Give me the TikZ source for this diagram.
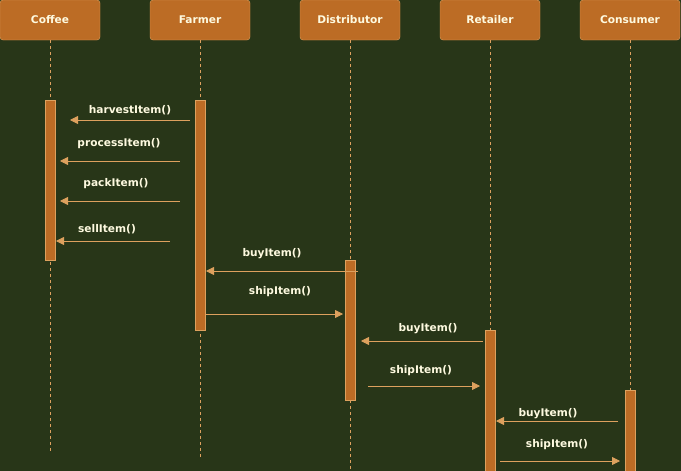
\documentclass[tikz,border=0pt]{standalone}
\usepackage{fontspec}
\setmainfont{DejaVu Sans}
\usetikzlibrary{arrows.meta}
\definecolor{bgc}{HTML}{283618}
\definecolor{boxf}{HTML}{BC6C25}
\definecolor{boxd}{HTML}{DDA15E}
\definecolor{txt}{HTML}{FEFAE0}
\tikzset{
  actor/.style={draw=boxd, fill=boxf, rounded corners=3pt, minimum width=100pt, minimum height=40pt, inner sep=0pt, text=txt, font=\fontsize{10.6}{12}\selectfont\bfseries},
  life/.style={draw=boxd, dashed, dash pattern=on 3pt off 3pt, line width=0.5pt},
  actbar/.style={draw=boxd, fill=boxf, line width=0.5pt},
  msg/.style={draw=boxd, line width=0.8pt, -{Triangle[length=8pt,width=8pt]}},
  lbl/.style={text=txt, font=\fontsize{10.6}{12}\selectfont\bfseries, inner sep=0pt}
}
\begin{document}
\begin{tikzpicture}[x=1pt,y=-1pt]
\fill[bgc] (0,0) rectangle (681,471);
\useasboundingbox (0,0) rectangle (681,471);
% lifelines
\coordinate (l1e) at (50,452);
\coordinate (l2e) at (200,458);
\coordinate (l3e) at (350,471);
\coordinate (l4e) at (490,471);
\coordinate (l5e) at (630,471);
\node[actor] (coffee) at (50,20) {Coffee};
\node[actor] (farmer) at (200,20) {Farmer};
\node[actor] (dist) at (350,20) {Distributor};
\node[actor] (ret) at (490,20) {Retailer};
\node[actor] (cons) at (630,20) {Consumer};
\draw[life] (coffee.south) -- (l1e);
\draw[life] (farmer.south) -- (l2e);
\draw[life] (dist.south) -- (l3e);
\draw[life] (ret.south) -- (l4e);
\draw[life] (cons.south) -- (l5e);
% activation bars
\draw[actbar] (45,100) rectangle (55,260);
\draw[actbar] (195,100) rectangle (205,330);
\draw[actbar] (345,260) rectangle (355,400);
\draw[actbar] (485,330) rectangle (495,471);
\draw[actbar] (625,390) rectangle (635,471);
% messages
\coordinate (m1a) at (190,120); \coordinate (m1b) at (70,120);
\draw[msg] (m1a) -- (m1b);
\node[lbl] (t1) at (130,110) {harvestItem()};
\coordinate (m2a) at (180,161); \coordinate (m2b) at (60,161);
\draw[msg] (m2a) -- (m2b);
\node[lbl] (t2) at (119,144) {processItem()};
\coordinate (m3a) at (180,201); \coordinate (m3b) at (60,201);
\draw[msg] (m3a) -- (m3b);
\node[lbl] (t3) at (116,184) {packItem()};
\coordinate (m4a) at (170,241); \coordinate (m4b) at (56,241);
\draw[msg] (m4a) -- (m4b);
\node[lbl] (t4) at (107,229) {sellItem()};
\coordinate (m5a) at (358,271); \coordinate (m5b) at (206,271);
\draw[msg] (m5a) -- (m5b);
\node[lbl] (t5) at (272,254) {buyItem()};
\coordinate (m6a) at (205,314); \coordinate (m6b) at (343,314);
\draw[msg] (m6a) -- (m6b);
\node[lbl] (t6) at (280,292) {shipItem()};
\coordinate (m7a) at (483,341); \coordinate (m7b) at (361,341);
\draw[msg] (m7a) -- (m7b);
\node[lbl] (t7) at (428,329) {buyItem()};
\coordinate (m8a) at (368,386); \coordinate (m8b) at (480,386);
\draw[msg] (m8a) -- (m8b);
\node[lbl] (t8) at (421,371) {shipItem()};
\coordinate (m9a) at (618,421); \coordinate (m9b) at (496,421);
\draw[msg] (m9a) -- (m9b);
\node[lbl] (t9) at (548,414) {buyItem()};
\coordinate (m10a) at (500,461); \coordinate (m10b) at (620,461);
\draw[msg] (m10a) -- (m10b);
\node[lbl] (t10) at (557,445) {shipItem()};
\end{tikzpicture}
\end{document}
